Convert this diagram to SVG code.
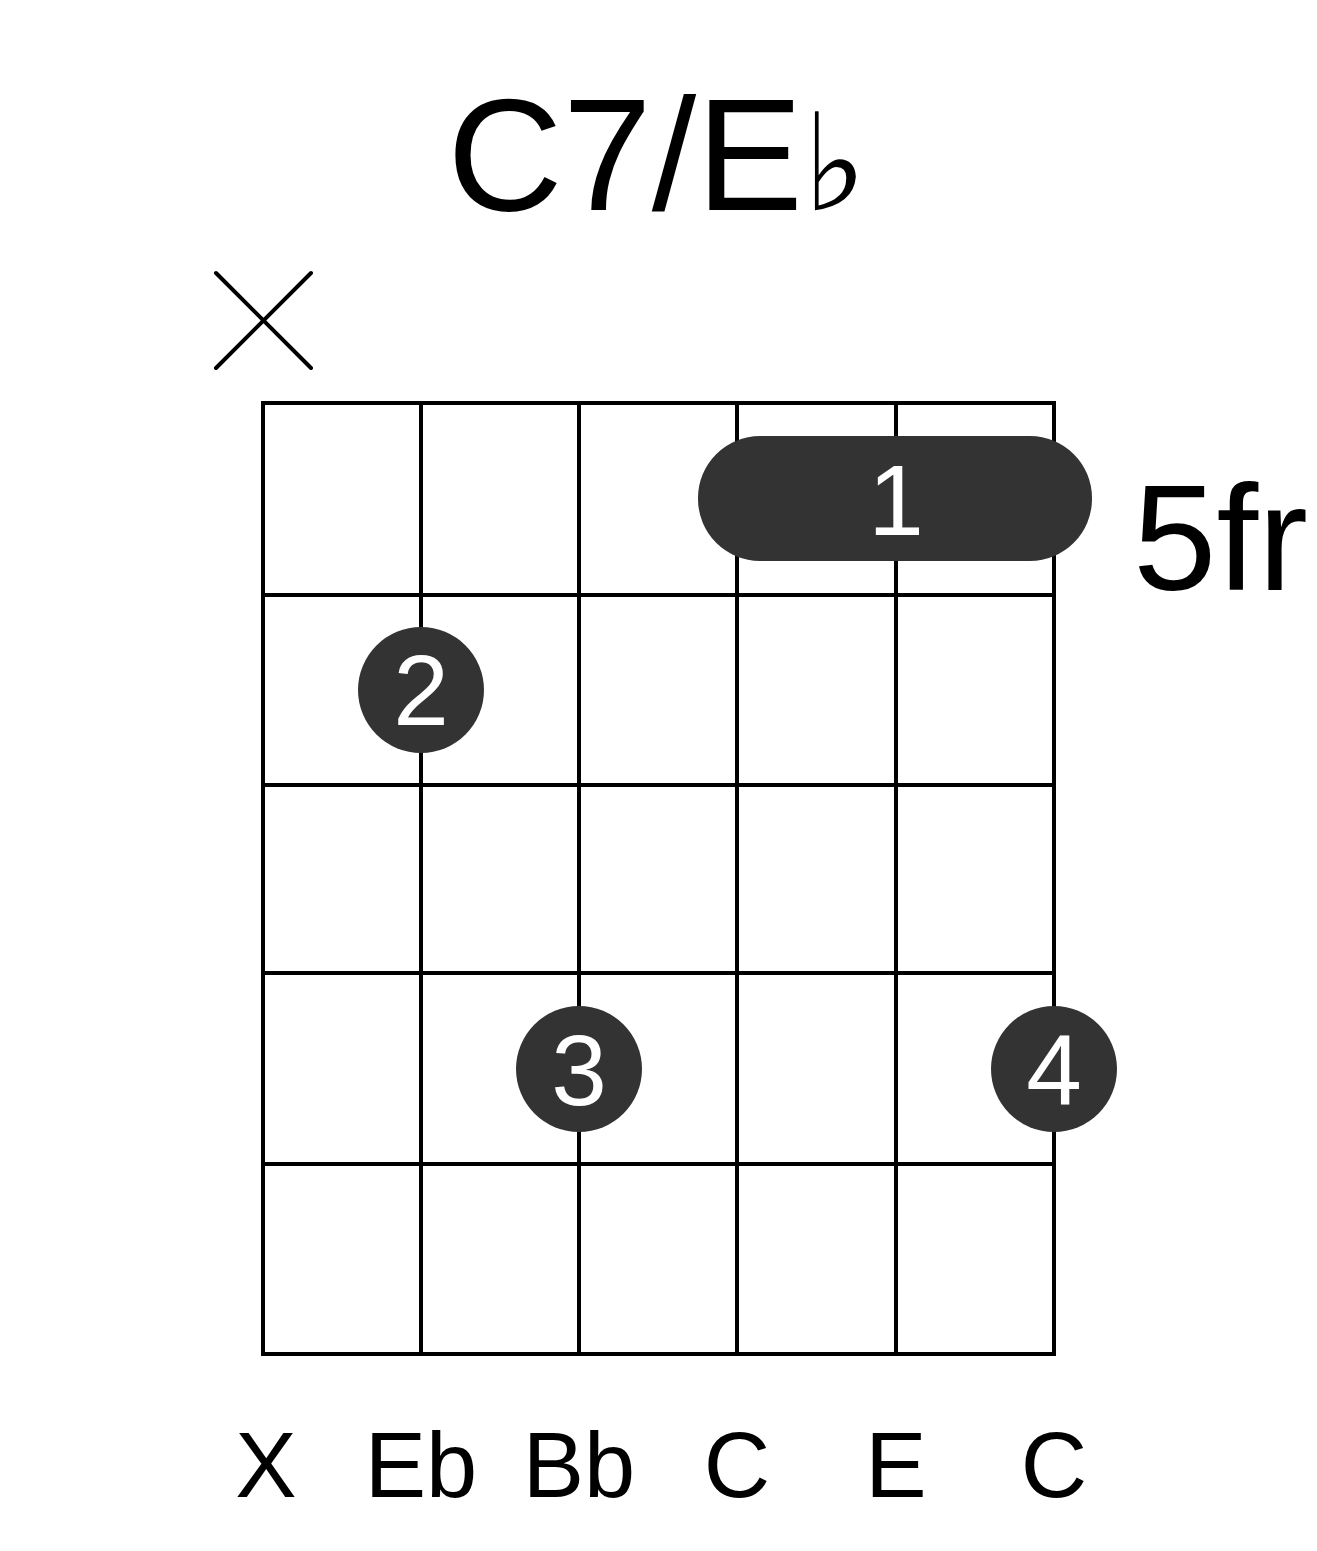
<svg xmlns="http://www.w3.org/2000/svg" width="1317" height="1551" viewBox="0 0 1317 1551">
<style>
.g{stroke:#000;stroke-width:4;fill:none}
.d{fill:#333}
.n{font-family:"Liberation Sans",Arial,sans-serif;fill:#fff;font-size:100px;text-anchor:middle}
.l{font-family:"Liberation Sans",Arial,sans-serif;fill:#000;font-size:92px;text-anchor:middle}
</style>
<rect width="1317" height="1551" fill="#fff"/>
<text x="657" y="210" font-family="Liberation Sans,Arial,sans-serif" font-size="160" text-anchor="middle">C7/E<tspan font-family="DejaVu Sans,sans-serif" font-size="135">♭</tspan></text>
<g id="grid" class="g">
<rect x="263" y="403" width="791" height="951"/>
<path d="M421 403V1354M579 403V1354M737 403V1354M896 403V1354M263 595H1054M263 785H1054M263 973H1054M263 1164H1054"/>
</g>
<g id="mute" class="g" stroke-width="3"><path d="M216 273L311 368M311 273L216 368" stroke-linecap="round"/></g>
<g id="barre"><rect class="d" x="698" y="436" width="394" height="125" rx="62"/><text class="n" x="896" y="535">1</text></g>
<g id="f2"><circle class="d" cx="421" cy="690" r="63"/><text class="n" x="421" y="725">2</text></g>
<g id="f3"><circle class="d" cx="579" cy="1069" r="63"/><text class="n" x="579" y="1105">3</text></g>
<g id="f4"><circle class="d" cx="1054" cy="1069" r="63"/><text class="n" x="1054" y="1105">4</text></g>
<text x="1133" y="590" font-family="Liberation Sans,Arial,sans-serif" font-size="150">5fr</text>
<g id="labels">
<text class="l" x="266" y="1497">X</text>
<text class="l" x="421" y="1497">Eb</text>
<text class="l" x="579" y="1497">Bb</text>
<text class="l" x="737" y="1497">C</text>
<text class="l" x="896" y="1497">E</text>
<text class="l" x="1054" y="1497">C</text>
</g>
</svg>
